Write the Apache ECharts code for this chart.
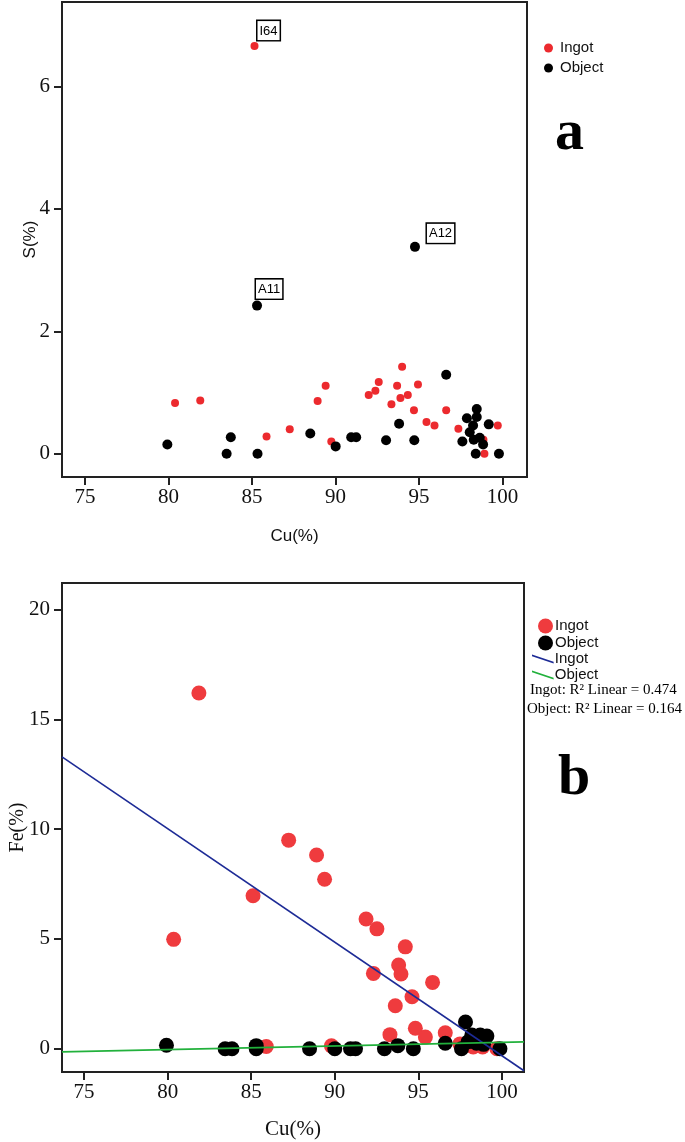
<!DOCTYPE html>
<html>
<head>
<meta charset="utf-8">
<script src="https://cdn.jsdelivr.net/npm/echarts@6/dist/echarts.min.js"></script>
<style>
html,body{margin:0;padding:0;background:#fff;}
#chart{width:685px;height:1142px;}
</style>
</head>
<body>
<div id="chart"></div>
<script>
// ---- Panel a: S(%) vs Cu(%) ----
var ingotS = [
  [85.15,6.66],[80.39,0.83],[81.90,0.87],[85.87,0.28],[87.26,0.40],[88.93,0.86],
  [89.41,1.11],[89.75,0.20],[91.99,0.96],[92.39,1.03],[92.59,1.17],[93.35,0.81],
  [93.69,1.11],[93.89,0.91],[93.99,1.42],[94.33,0.96],[94.70,0.71],[94.94,1.13],
  [95.45,0.52],[95.93,0.46],[96.63,0.71],[97.36,0.41],[98.86,0.23],[98.92,0.00],
  [99.72,0.46]
];
var objectS = [
  [85.30,2.42],[94.76,3.38],[79.93,0.15],[83.48,0.00],[83.73,0.27],[85.33,0.00],
  [88.49,0.33],[90.01,0.12],[90.94,0.27],[91.24,0.27],[93.03,0.22],[93.81,0.49],
  [94.72,0.22],[96.63,1.29],[97.60,0.20],[97.87,0.58],[98.04,0.35],[98.24,0.46],
  [98.28,0.23],[98.40,0.00],[98.46,0.73],[98.46,0.60],[98.64,0.26],[98.84,0.15],
  [99.18,0.48],[99.79,0.00]
];
// labelled samples: [series, index in its array, text]
var pointLabels = [['ingot',0,'I64'],['object',0,'A11'],['object',1,'A12']];

// ---- Panel b: Fe(%) vs Cu(%) ----
var ingotFe = [
  [81.87,16.20],[80.36,4.98],[85.11,6.97],[85.90,0.10],[87.24,9.50],[88.91,8.82],
  [89.39,7.72],[89.80,0.13],[91.87,5.91],[92.52,5.46],[92.31,3.43],[93.30,0.64],
  [93.62,1.96],[93.82,3.81],[93.96,3.40],[94.22,4.64],[94.62,2.37],[94.82,0.93],
  [95.42,0.53],[95.85,3.02],[96.61,0.73],[97.49,0.22],[98.28,0.08],[98.84,0.08],
  [99.70,0.00]
];
var objectFe = [
  [79.93,0.16],[83.44,0.00],[83.85,0.00],[85.30,0.14],[85.30,0.00],[88.49,0.00],
  [90.00,0.00],[90.94,0.00],[91.24,0.00],[92.97,0.00],[93.77,0.14],[94.70,0.00],
  [96.61,0.25],[97.58,0.00],[97.82,1.22],[97.98,0.32],[98.20,0.62],[98.30,0.40],
  [98.48,0.25],[98.50,0.50],[98.70,0.62],[98.80,0.35],[98.90,0.20],[99.10,0.58],
  [99.88,0.00]
];
// linear fits: [intercept, slope]
var ingotFit = [51.38,-0.517];
var objectFit = [-1.341,0.0163];
var fitText = ['Ingot: R\u00b2 Linear = 0.474','Object: R\u00b2 Linear = 0.164'];

// tick labels
var cuTicks = [75,80,85,90,95,100];
var sTicks = [0,2,4,6];
var feTicks = [0,5,10,15,20];

var names = {ingotS:'Ingot',objectS:'Object',ingotFe:'Ingot',objectFe:'Object',ingotFit:'Ingot',objectFit:'Object'};

var SERIF = 'Liberation Serif, Times New Roman, serif';
var SANS = 'Liberation Sans, Arial, sans-serif';
var RED_A = '#ec2a2e', RED_B = '#ef3b3e', BLUE = '#1d2b96', GREEN = '#22b13c';

var xRangeA = [73.62,101.47], yRangeA = [-0.38,7.38];
var xRangeB = [73.68,101.32], yRangeB = [-1.06,21.21];

function labelFor(kind, i){
  for (var k=0;k<pointLabels.length;k++){
    if (pointLabels[k][0]===kind && pointLabels[k][1]===i) return pointLabels[k][2];
  }
  return null;
}
var labelOffsets = {I64:[7,-21], A11:[4,-21], A12:[17,-18]};
function buildData(arr, kind){
  return arr.map(function(p,i){
    var t = labelFor(kind,i);
    if (!t) return p;
    return {value:p, label:{show:true, formatter:t, position:labelOffsets[t],
      fontFamily:SANS, fontSize:13, color:'#000', backgroundColor:'#fff',
      borderColor:'#000', borderWidth:1.5, padding:[3,2,2,2], lineHeight:14, opacity:1}};
  });
}
function fitLine(fit, range){
  return [range[0], range[1]].map(function(x){ return [x, fit[0]+fit[1]*x]; });
}

function axisCommon(ticks, isY){
  return {
    type:'value',
    axisLine:{show:true, onZero:false, lineStyle:{color:'#222', width:2}},
    axisTick:{show:true, length:8, lineStyle:{color:'#222', width:2}, customValues:ticks},
    axisLabel:{customValues:ticks, fontFamily:SERIF, fontSize:21, color:'#111', margin: isY?12:10},
    splitLine:{show:false},
    nameLocation:'middle'
  };
}
function merge(a,b){ for (var k in b) a[k]=b[k]; return a; }

var chart = echarts.init(document.getElementById('chart'), null, {renderer:'canvas'});
chart.setOption({
  animation:false,
  backgroundColor:'#fff',
  grid:[
    {left:62, top:2, width:465, height:475, show:true, borderColor:'#222', borderWidth:2, backgroundColor:'#fff',
      containLabel:false, outerBoundsMode:'none'},
    {left:62, top:583, width:462, height:489, show:true, borderColor:'#222', borderWidth:2, backgroundColor:'#fff',
      containLabel:false, outerBoundsMode:'none'}
  ],
  xAxis:[
    merge(axisCommon(cuTicks,false), {gridIndex:0, min:xRangeA[0], max:xRangeA[1], name:'Cu(%)', nameGap:51,
      nameTextStyle:{fontFamily:SANS, fontSize:17, color:'#111'}}),
    merge(axisCommon(cuTicks,false), {gridIndex:1, min:xRangeB[0], max:xRangeB[1], name:'Cu(%)', nameGap:47,
      nameTextStyle:{fontFamily:SERIF, fontSize:21, color:'#111'}})
  ],
  yAxis:[
    merge(axisCommon(sTicks,true), {gridIndex:0, min:yRangeA[0], max:yRangeA[1], name:'S(%)', nameGap:23,
      nameMoveOverlap:false, nameTextStyle:{fontFamily:SANS, fontSize:17, color:'#111'}}),
    merge(axisCommon(feTicks,true), {gridIndex:1, min:yRangeB[0], max:yRangeB[1], name:'Fe(%)', nameGap:34,
      nameMoveOverlap:false, nameTextStyle:{fontFamily:SERIF, fontSize:20, color:'#111'}})
  ],
  legend:[
    {orient:'vertical', left:539, top:35, itemWidth:9, itemHeight:9, itemGap:4, icon:'circle',
      data:['ingotS','objectS'], formatter:function(n){return names[n];},
      textStyle:{fontFamily:SANS, fontSize:15, color:'#111', lineHeight:16, padding:[0,0,0,2]}, selectedMode:false},
    {orient:'vertical', left:533, top:613, itemWidth:15, itemHeight:15, itemGap:1, icon:'circle',
      data:['ingotFe','objectFe'], formatter:function(n){return names[n];},
      textStyle:{fontFamily:SANS, fontSize:15, color:'#111', lineHeight:16, padding:[0,0,0,-3]}, selectedMode:false},
    {orient:'vertical', left:527, top:646, itemWidth:22, itemHeight:9, itemGap:0,
      data:[{name:'ingotFit', icon:'path://M0,0L24,8L24,10L0,2Z'},{name:'objectFit', icon:'path://M0,0L24,8L24,10L0,2Z'}],
      formatter:function(n){return names[n];},
      textStyle:{fontFamily:SANS, fontSize:15, color:'#111', lineHeight:16, padding:[0,0,0,-4]}, selectedMode:false}
  ],
  graphic:[
    {type:'text', left:555, top:105, style:{text:'a', fontFamily:SERIF, fontSize:58, fontWeight:'bold', fill:'#000'}},
    {type:'text', left:558, top:750, style:{text:'b', fontFamily:SERIF, fontSize:58, fontWeight:'bold', fill:'#000'}},
    {type:'text', left:530, top:683, style:{text:fitText[0], fontFamily:SERIF, fontSize:15, fill:'#000'}},
    {type:'text', left:527, top:702, style:{text:fitText[1], fontFamily:SERIF, fontSize:15, fill:'#000'}}
  ],
  series:[
    {name:'ingotS', type:'scatter', xAxisIndex:0, yAxisIndex:0, symbolSize:8, itemStyle:{color:RED_A, opacity:1}, z:2,
      data:buildData(ingotS,'ingot')},
    {name:'objectS', type:'scatter', xAxisIndex:0, yAxisIndex:0, symbolSize:10, itemStyle:{color:'#000', opacity:1}, z:3,
      data:buildData(objectS,'object')},
    {name:'ingotFe', type:'scatter', xAxisIndex:1, yAxisIndex:1, symbolSize:15, itemStyle:{color:RED_B, opacity:1}, z:2,
      data:ingotFe},
    {name:'objectFe', type:'scatter', xAxisIndex:1, yAxisIndex:1, symbolSize:15, itemStyle:{color:'#000', opacity:1}, z:3,
      data:objectFe},
    {name:'ingotFit', type:'line', xAxisIndex:1, yAxisIndex:1, showSymbol:false, symbol:'none', color:BLUE,
      lineStyle:{color:BLUE, width:1.6}, z:4, data:fitLine(ingotFit, xRangeB)},
    {name:'objectFit', type:'line', xAxisIndex:1, yAxisIndex:1, showSymbol:false, symbol:'none', color:GREEN,
      lineStyle:{color:GREEN, width:1.8}, z:4, data:fitLine(objectFit, xRangeB)}
  ]
});
</script>
</body>
</html>
